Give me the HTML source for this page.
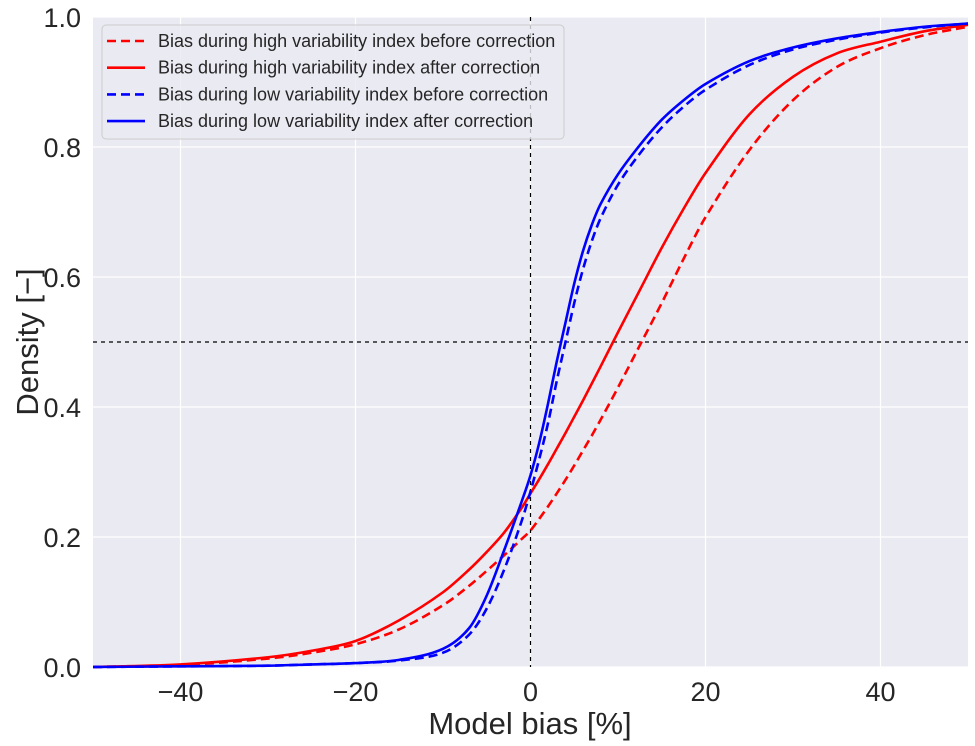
<!DOCTYPE html>
<html><head><meta charset="utf-8"><style>
body{margin:0;background:#fff}
svg{display:block;font-family:"Liberation Sans",sans-serif}
</style></head><body>
<svg id="chart" width="975" height="746">
<rect x="93" y="17" width="875" height="650" fill="#eaeaf2"/>
<g id="grid"></g><g id="refs"></g><g id="series"></g><g id="ticks"></g>
<text x="530" y="734" font-size="31" text-anchor="middle" fill="#262626">Model bias [%]</text>
<text transform="translate(38,342) rotate(-90)" font-size="31" text-anchor="middle" fill="#262626">Density [−]</text>
<g>
<rect x="102" y="25" width="462" height="114" rx="4" fill="#eaeaf2" fill-opacity="0.8" stroke="#cccccc"/>
<g id="legend"></g>
</g>
</svg>
<script>
const xTicks=[-40,-20,0,20,40];
const yTicks=[0,0.2,0.4,0.6,0.8,1.0];
const yTickLabels=["0.0","0.2","0.4","0.6","0.8","1.0"];
const xs=[-50,-40,-30,-25,-20,-15,-10,-7,-5,-3,-1,0,1,2,3,4,5,6,7,8,10,12.5,15,17.5,20,25,30,35,40,45,50];
const redBefore=[0,0.003,0.013,0.022,0.035,0.058,0.095,0.125,0.148,0.172,0.197,0.21,0.228,0.247,0.267,0.288,0.31,0.333,0.356,0.38,0.43,0.495,0.56,0.628,0.692,0.795,0.872,0.923,0.952,0.972,0.985];
const redAfter=[0,0.004,0.015,0.025,0.04,0.072,0.115,0.15,0.177,0.207,0.245,0.267,0.289,0.312,0.336,0.36,0.385,0.41,0.436,0.462,0.515,0.58,0.645,0.705,0.76,0.85,0.908,0.944,0.962,0.978,0.988];
const blueBefore=[0,0.001,0.002,0.004,0.006,0.01,0.022,0.05,0.09,0.15,0.225,0.27,0.32,0.375,0.44,0.5,0.56,0.612,0.655,0.69,0.742,0.79,0.83,0.862,0.888,0.926,0.95,0.965,0.976,0.984,0.99];
const blueAfter=[0,0.001,0.002,0.004,0.006,0.011,0.028,0.06,0.11,0.18,0.255,0.295,0.345,0.405,0.47,0.53,0.59,0.64,0.68,0.712,0.758,0.803,0.842,0.872,0.897,0.932,0.953,0.967,0.977,0.985,0.99];
const legendLabels=["Bias during high variability index before correction","Bias during high variability index after correction","Bias during low variability index before correction","Bias during low variability index after correction"];
const NS="http://www.w3.org/2000/svg";
const X=v=>530.5+v*8.75, Y=v=>667-v*650;
function mk(tag,attrs,parent){const e=document.createElementNS(NS,tag);for(const k in attrs)e.setAttribute(k,attrs[k]);parent.appendChild(e);return e;}
const grid=document.getElementById('grid'),ticks=document.getElementById('ticks');
xTicks.forEach(t=>{
 const l=mk('line',{x1:X(t),x2:X(t),y1:17,y2:667,stroke:'#fff','stroke-width':1.2},grid);
 
 
 const tx=mk('text',{x:X(t),y:701,'font-size':27,'text-anchor':'middle',fill:'#262626'},ticks);
 tx.textContent=(t<0?'−'+(-t):t);
 
 
});
yTicks.forEach((t,i)=>{
 const l=mk('line',{x1:93,x2:968,y1:Y(t),y2:Y(t),stroke:'#fff','stroke-width':1.2},grid);
 
 
 const tx=mk('text',{x:81,y:Y(t)+10,'font-size':27,'text-anchor':'end',fill:'#262626'},ticks);
 tx.textContent=yTickLabels[i];
 
 
});
const refs=document.getElementById('refs');
const v=mk('line',{x1:X(0),x2:X(0),y1:17,y2:667,stroke:'#000','stroke-width':1.2,'stroke-dasharray':'4,4'},refs);


const h=mk('line',{x1:93,x2:968,y1:Y(0.5),y2:Y(0.5),stroke:'#000','stroke-width':1.2,'stroke-dasharray':'4,4'},refs);


const series=[[redBefore,'#ff0000',true,'red-before-line'],[redAfter,'#ff0000',false,'red-after-line'],[blueBefore,'#0000ff',true,'blue-before-line'],[blueAfter,'#0000ff',false,'blue-after-line']];
const sg=document.getElementById('series');
function path(ys){
 const p=xs.map((x,i)=>[X(x),Y(ys[i])]);const n=p.length;
 const m=p.map((q,i)=>{const a=p[Math.max(0,i-1)],b=p[Math.min(n-1,i+1)];return (b[1]-a[1])/(b[0]-a[0]);});
 let d='M'+p[0][0]+','+p[0][1];
 for(let i=0;i<n-1;i++){const dx=(p[i+1][0]-p[i][0])/3;
  d+=' C'+(p[i][0]+dx)+','+(p[i][1]+m[i]*dx)+' '+(p[i+1][0]-dx)+','+(p[i+1][1]-m[i+1]*dx)+' '+p[i+1][0]+','+p[i+1][1];}
 return d;}
series.forEach(s=>{
 const a={d:path(s[0]),fill:'none',stroke:s[1],'stroke-width':2.6};
 if(s[2])a['stroke-dasharray']='9,5';
 const e=mk('path',a,sg);
 
 
});
const lg=document.getElementById('legend');
legendLabels.forEach((lab,i)=>{
 const y=41+i*26.7;
 const a={x1:107,x2:145,y1:y,y2:y,stroke:series[i][1],'stroke-width':2.6};
 if(series[i][2])a['stroke-dasharray']='9,5';
 const l=mk('line',a,lg);
 
 
 const t=mk('text',{x:158,y:y+6,'font-size':18,fill:'#262626'},lg);
 t.textContent=lab;
 
 
});
</script>
</body></html>
